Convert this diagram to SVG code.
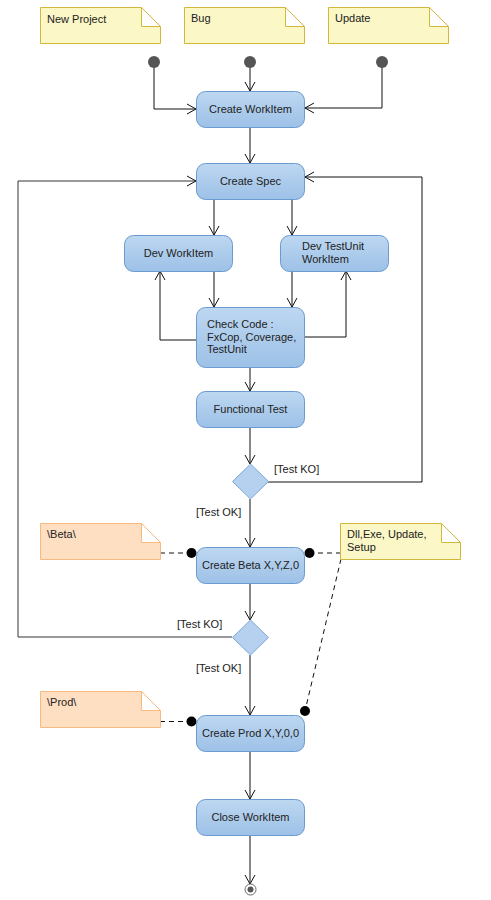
<svg xmlns="http://www.w3.org/2000/svg" width="491" height="900" viewBox="0 0 491 900">
<defs>
<linearGradient id="ng" x1="0" y1="0" x2="0" y2="1">
<stop offset="0" stop-color="#bdd7f1"/>
<stop offset="1" stop-color="#9dc1e7"/>
</linearGradient>
<marker id="arr" markerUnits="userSpaceOnUse" markerWidth="12" markerHeight="12" viewBox="-10 -6 12 12" refX="0" refY="0" orient="auto">
<path d="M-9,-5 L0,0 L-9,5" fill="none" stroke="#111" stroke-width="1"/>
</marker>
</defs>
<style>
.node{fill:url(#ng);stroke:#6b9bd0;stroke-width:1}
.dec{fill:#b5d1ef;stroke:#7ea7d6;stroke-width:1}
.ynote{fill:#fbf7c6;stroke:#d3b73c;stroke-width:1}
.onote{fill:#fedfc2;stroke:#f7b97e;stroke-width:1}
.fold{fill:#ffffff;stroke-width:1}
.t{font-family:"Liberation Sans",Arial,sans-serif;font-size:11px;fill:#222}
.c{text-anchor:middle}
.e{fill:none;stroke:#111;stroke-width:1}
.d{fill:none;stroke:#111;stroke-width:1;stroke-dasharray:5,4}
</style>
<rect width="491" height="900" fill="#ffffff"/>

<g id="connectors">
<path class="e" d="M154,62 V109 H196" marker-end="url(#arr)"/>
<path class="e" d="M250,62 V91" marker-end="url(#arr)"/>
<path class="e" d="M382,62 V108 H305" marker-end="url(#arr)"/>
<path class="e" d="M250,127 V163" marker-end="url(#arr)"/>
<path class="e" d="M214,200 V235" marker-end="url(#arr)"/>
<path class="e" d="M292,200 V235" marker-end="url(#arr)"/>
<path class="e" d="M214,271 V307" marker-end="url(#arr)"/>
<path class="e" d="M292,271 V307" marker-end="url(#arr)"/>
<path class="e" d="M196,340 H160 V271" marker-end="url(#arr)"/>
<path class="e" d="M305,337 H346 V271" marker-end="url(#arr)"/>
<path class="e" d="M250,367 V391" marker-end="url(#arr)"/>
<path class="e" d="M250,427 V464" marker-end="url(#arr)"/>
<path class="e" d="M268,482 H422 V177 H305" marker-end="url(#arr)"/>
<path class="e" d="M250,499 V547" marker-end="url(#arr)"/>
<path class="e" d="M250,583 V620" marker-end="url(#arr)"/>
<path class="e" d="M232,637 H18 V181 H196" marker-end="url(#arr)" style="stroke:#333"/>
<path class="e" d="M250,655 V715" marker-end="url(#arr)"/>
<path class="e" d="M250,751 V799" marker-end="url(#arr)"/>
<path class="e" d="M250,835 V884" marker-end="url(#arr)"/>
<path class="d" d="M160,553 H192"/>
<path class="d" d="M309,553 H341"/>
<path class="d" d="M160,721.5 H192"/>
<path class="d" d="M341,559 L305,711"/>
<circle cx="191.5" cy="553" r="5" fill="#000"/>
<circle cx="309.5" cy="553" r="5" fill="#000"/>
<circle cx="191.5" cy="721.5" r="5" fill="#000"/>
<circle cx="305" cy="711" r="5" fill="#000"/>
<text class="t" x="274" y="473">[Test KO]</text>
<text class="t" x="196" y="516">[Test OK]</text>
<text class="t" x="177" y="628">[Test KO]</text>
<text class="t" x="196" y="672">[Test OK]</text>
</g>

<g id="note-newproject">
<path class="ynote" d="M40.5,7.5 H141.5 L160.5,26.5 V43.5 H40.5 Z"/>
<path class="fold" stroke="#d3b73c" d="M141.5,7.5 V26.5 H160.5 Z"/>
<text class="t" x="47" y="23">New Project</text>
</g>
<g id="note-bug">
<path class="ynote" d="M184.5,7.5 H285.5 L304.5,26.5 V43.5 H184.5 Z"/>
<path class="fold" stroke="#d3b73c" d="M285.5,7.5 V26.5 H304.5 Z"/>
<text class="t" x="191" y="22">Bug</text>
</g>
<g id="note-update">
<path class="ynote" d="M328.5,7.5 H429.5 L448.5,26.5 V43.5 H328.5 Z"/>
<path class="fold" stroke="#d3b73c" d="M429.5,7.5 V26.5 H448.5 Z"/>
<text class="t" x="335" y="22">Update</text>
</g>

<g id="start-newproject"><circle cx="154" cy="62" r="6" fill="#555"/></g>
<g id="start-bug"><circle cx="250" cy="62" r="6" fill="#555"/></g>
<g id="start-update"><circle cx="382" cy="62" r="6" fill="#555"/></g>

<g id="create-workitem">
<rect class="node" x="196.5" y="91.5" width="108" height="36" rx="9"/>
<text class="t c" x="250.5" y="113">Create WorkItem</text>
</g>
<g id="create-spec">
<rect class="node" x="196.5" y="163.5" width="108" height="36" rx="9"/>
<text class="t c" x="250.5" y="185">Create Spec</text>
</g>
<g id="dev-workitem">
<rect class="node" x="124.5" y="235.5" width="108" height="36" rx="9"/>
<text class="t c" x="178.5" y="257">Dev WorkItem</text>
</g>
<g id="dev-testunit">
<rect class="node" x="280.5" y="235.5" width="108" height="36" rx="9"/>
<text class="t" x="302" y="250">Dev TestUnit</text>
<text class="t" x="302" y="263">WorkItem</text>
</g>
<g id="check-code">
<rect class="node" x="196.5" y="307.5" width="108" height="60" rx="9"/>
<text class="t" x="207" y="328">Check Code :</text>
<text class="t" x="207" y="341">FxCop, Coverage,</text>
<text class="t" x="207" y="353">TestUnit</text>
</g>
<g id="functional-test">
<rect class="node" x="196.5" y="391.5" width="108" height="36" rx="9"/>
<text class="t c" x="250.5" y="413">Functional Test</text>
</g>
<g id="decision-1">
<path class="dec" d="M250.5,464 L268.5,481.5 L250.5,499 L232.5,481.5 Z"/>
</g>
<g id="note-beta">
<path class="onote" d="M40.5,523.5 H141.5 L160.5,542.5 V559.5 H40.5 Z"/>
<path class="fold" stroke="#f7b97e" d="M141.5,523.5 V542.5 H160.5 Z"/>
<text class="t" x="47" y="538">\Beta\</text>
</g>
<g id="create-beta">
<rect class="node" x="196.5" y="547.5" width="108" height="36" rx="9"/>
<text class="t c" x="250.5" y="569">Create Beta X,Y,Z,0</text>
</g>
<g id="note-dll">
<path class="ynote" d="M340.5,523.5 H441.5 L460.5,542.5 V559.5 H340.5 Z"/>
<path class="fold" stroke="#d3b73c" d="M441.5,523.5 V542.5 H460.5 Z"/>
<text class="t" x="347" y="538">Dll,Exe, Update,</text>
<text class="t" x="347" y="551">Setup</text>
</g>
<g id="decision-2">
<path class="dec" d="M250.5,620 L268.5,637.5 L250.5,655 L232.5,637.5 Z"/>
</g>
<g id="note-prod">
<path class="onote" d="M40.5,691.5 H141.5 L160.5,710.5 V727.5 H40.5 Z"/>
<path class="fold" stroke="#f7b97e" d="M141.5,691.5 V710.5 H160.5 Z"/>
<text class="t" x="47" y="706">\Prod\</text>
</g>
<g id="create-prod">
<rect class="node" x="196.5" y="715.5" width="108" height="36" rx="9"/>
<text class="t c" x="250.5" y="737">Create Prod X,Y,0,0</text>
</g>
<g id="close-workitem">
<rect class="node" x="196.5" y="799.5" width="108" height="36" rx="9"/>
<text class="t c" x="250.5" y="821">Close WorkItem</text>
</g>
<g id="final">
<circle cx="250.5" cy="889.5" r="5.5" fill="#fff" stroke="#666" stroke-width="1"/>
<circle cx="250.5" cy="889.5" r="3" fill="#555"/>
</g>
</svg>
